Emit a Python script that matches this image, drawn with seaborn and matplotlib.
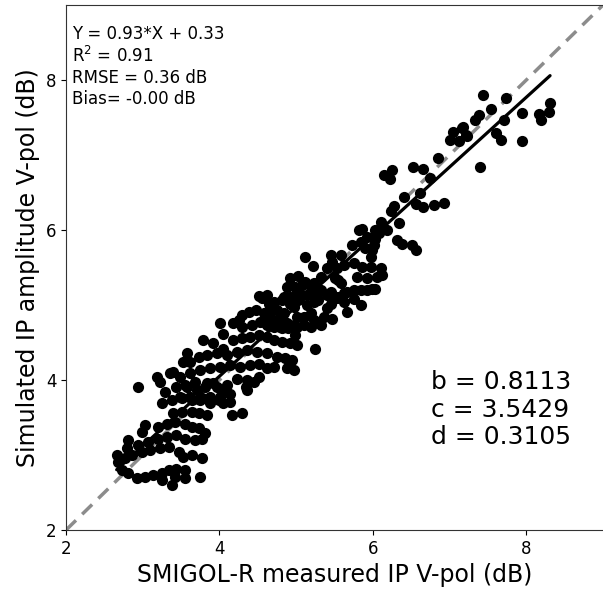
import numpy as np
import pandas as pd
import matplotlib
matplotlib.use("Agg")
import matplotlib.pyplot as plt
import seaborn as sns

# points, grouped by band of simulated value (dB)
# each entry is (measured, simulated)
band_top = [
    (7.43, 7.80), (7.73, 7.76), (7.54, 7.61), (7.38, 7.53), (7.33, 7.47),
    (7.17, 7.38), (7.04, 7.31), (7.21, 7.27), (7.12, 7.19), (7.00, 7.20),
    (7.23, 7.25), (7.71, 7.47), (7.95, 7.56), (8.31, 7.69), (8.17, 7.55),
    (8.29, 7.57), (8.19, 7.47), (7.60, 7.29), (7.67, 7.20), (7.94, 7.19),
    (7.40, 6.84), (6.85, 6.96), (6.52, 6.84), (6.66, 6.81), (6.75, 6.70),
    (6.25, 6.80), (6.14, 6.73), (6.22, 6.68), (7.16, 7.36),
]

band_upper = [
    (6.41, 6.44), (6.62, 6.49), (6.27, 6.32), (6.56, 6.35), (6.66, 6.31),
    (6.80, 6.34), (6.93, 6.36), (6.23, 6.25), (6.10, 6.11), (6.03, 6.00),
    (6.34, 6.09), (5.86, 6.01), (5.93, 5.91), (6.01, 5.80), (6.32, 5.87),
    (6.38, 5.82), (6.51, 5.80), (6.56, 5.74), (5.82, 6.00), (5.73, 5.80),
    (5.84, 5.84), (5.90, 5.76), (5.99, 5.73), (5.97, 5.64), (6.06, 5.98),
    (6.19, 6.00), (6.03, 5.88), (6.08, 5.96), (6.14, 6.02),
]

band_mid = [
    (5.12, 5.64), (5.22, 5.52), (5.45, 5.67), (5.58, 5.67), (5.47, 5.58),
    (5.40, 5.49), (5.53, 5.49), (5.62, 5.53), (5.75, 5.56), (5.86, 5.51),
    (5.97, 5.51), (6.10, 5.49), (6.12, 5.40), (5.79, 5.38), (5.93, 5.36),
    (6.06, 5.38), (4.92, 5.36), (5.03, 5.39), (5.32, 5.38), (5.51, 5.36),
    (5.58, 5.30), (4.88, 5.24), (4.99, 5.24), (5.08, 5.27), (5.19, 5.24),
    (5.27, 5.20), (5.45, 5.18), (5.66, 5.18), (5.84, 5.20), (5.99, 5.22),
    (5.55, 5.33), (5.45, 5.13), (5.55, 5.11), (5.75, 5.20), (5.93, 5.20),
    (6.03, 5.21), (5.62, 5.04), (5.75, 5.08), (5.84, 5.00), (5.66, 4.91),
    (4.62, 5.13), (4.55, 5.09), (4.64, 5.02), (4.71, 5.04), (4.84, 5.09),
    (5.01, 5.09), (5.08, 5.13), (4.97, 4.98), (5.14, 5.00), (5.23, 5.04),
    (5.29, 5.07), (5.40, 4.96), (5.36, 4.84), (5.19, 4.89), (5.10, 4.84),
    (5.01, 4.84), (4.66, 4.84), (4.75, 4.80), (4.84, 4.89), (4.88, 4.76),
    (4.79, 4.71), (4.62, 4.73), (4.58, 4.78), (5.23, 4.80), (5.47, 4.82),
    (4.97, 4.73), (5.10, 4.73), (5.19, 4.71), (5.32, 4.73), (4.51, 5.12),
    (4.82, 5.07), (4.92, 5.11), (5.01, 5.16), (5.14, 5.13), (5.19, 5.18),
    (5.27, 5.09), (4.92, 5.27), (5.12, 5.31), (5.23, 5.29), (5.32, 5.20),
    (5.40, 5.13), (4.84, 5.11), (4.92, 5.02), (5.03, 5.07), (5.45, 5.02),
    (5.53, 5.09), (5.62, 5.16),
]

band_lower = [
    (5.25, 4.42), (4.01, 4.76), (4.05, 4.62), (4.18, 4.76), (4.25, 4.80),
    (4.29, 4.87), (4.38, 4.91), (4.47, 4.93), (4.58, 4.89), (4.66, 4.91),
    (4.75, 4.93), (4.82, 4.84), (4.29, 4.71), (4.42, 4.73), (4.53, 4.78),
    (4.62, 4.76), (4.71, 4.71), (4.82, 4.69), (4.90, 4.69), (5.01, 4.71),
    (3.79, 4.53), (3.92, 4.49), (4.05, 4.42), (4.18, 4.53), (4.29, 4.56),
    (4.40, 4.58), (4.51, 4.60), (4.62, 4.58), (4.71, 4.53), (4.82, 4.51),
    (4.92, 4.49), (5.01, 4.47), (4.99, 4.60), (3.58, 4.36), (3.73, 4.31),
    (3.62, 4.24), (3.53, 4.24), (3.84, 4.33), (3.97, 4.36), (4.10, 4.33),
    (4.23, 4.38), (4.36, 4.40), (4.49, 4.38), (4.62, 4.36), (4.75, 4.31),
    (4.86, 4.29), (4.95, 4.27), (4.88, 4.16), (4.97, 4.13), (3.40, 4.11),
    (3.49, 4.04), (3.62, 4.09), (3.75, 4.13), (3.88, 4.16), (4.01, 4.18),
    (4.14, 4.20), (4.27, 4.18), (4.40, 4.20), (4.51, 4.22), (4.62, 4.16),
    (4.71, 4.18), (4.23, 4.02), (4.36, 4.00), (4.45, 3.98), (4.51, 4.04),
    (3.18, 4.04), (3.36, 4.09),
]

band_low = [
    (3.44, 3.91), (3.58, 3.91), (3.71, 3.87), (3.84, 3.96), (3.97, 3.91),
    (4.10, 3.93), (4.14, 3.82), (4.01, 3.78), (3.88, 3.78), (3.75, 3.73),
    (3.62, 3.78), (3.49, 3.78), (4.05, 3.69), (4.14, 3.71), (4.34, 3.91),
    (4.36, 3.87), (2.94, 3.91), (3.23, 3.98), (3.29, 3.84), (3.55, 3.93),
    (3.68, 3.98), (3.81, 3.91), (3.92, 3.96), (4.03, 3.87), (3.25, 3.69),
    (3.38, 3.73), (3.51, 3.76), (3.64, 3.73), (3.77, 3.76), (3.88, 3.69),
    (3.99, 3.73),
]

band_bottom = [
    (4.16, 3.53), (4.29, 3.56), (3.40, 3.56), (3.51, 3.58), (3.64, 3.58),
    (3.73, 3.56), (3.84, 3.53), (3.03, 3.40), (2.99, 3.31), (3.20, 3.38),
    (3.31, 3.42), (3.42, 3.44), (3.55, 3.42), (3.64, 3.38), (3.73, 3.36),
    (3.77, 3.22), (3.81, 3.29), (2.81, 3.20), (2.79, 3.09), (2.94, 3.13),
    (3.07, 3.18), (3.20, 3.22), (3.31, 3.24), (3.44, 3.27), (3.55, 3.22),
    (3.68, 3.20), (2.66, 3.00), (2.68, 2.91), (2.77, 2.96), (2.86, 3.00),
    (2.99, 3.04), (3.10, 3.07), (3.23, 3.09), (3.34, 3.11), (3.47, 3.04),
    (3.53, 2.98), (3.64, 3.00), (3.77, 2.96), (2.73, 2.80), (2.81, 2.76),
    (2.92, 2.69), (3.03, 2.71), (3.14, 2.73), (3.25, 2.76), (3.34, 2.80),
    (3.44, 2.82), (3.55, 2.80), (3.42, 2.71), (3.55, 2.69), (3.25, 2.67),
    (3.38, 2.60), (3.75, 2.71),
]

slope = 0.93
intercept = 0.33
stats_text = "Y = 0.93*X + 0.33\nR$^2$ = 0.91\nRMSE = 0.36 dB\nBias= -0.00 dB"
params_text = "b = 0.8113\nc = 3.5429\nd = 0.3105"
axis_min, axis_max = 2, 9
ticks = [2, 4, 6, 8]

points = band_top + band_upper + band_mid + band_lower + band_low + band_bottom
df = pd.DataFrame(points, columns=["measured", "simulated"])

sns.set_style("ticks")
plt.rcParams["font.family"] = ["DejaVu Sans"]
plt.rcParams["text.color"] = "black"
plt.rcParams["axes.labelcolor"] = "black"
plt.rcParams["xtick.color"] = "black"
plt.rcParams["ytick.color"] = "black"
plt.rcParams["axes.edgecolor"] = "#333333"

fig = plt.figure(figsize=(6.03, 5.97), dpi=100)
ax = fig.add_axes([0.1095, 0.1122, 0.8905, 0.8794])

ax.plot([axis_min, axis_max], [axis_min, axis_max], color="#8c8c8c",
        linestyle="--", linewidth=2.5, dashes=(4, 2.5), zorder=1)
sns.scatterplot(data=df, x="measured", y="simulated", color="black",
                s=65, linewidth=0, ax=ax, zorder=2)

xfit = np.array([df["measured"].min(), df["measured"].max()])
ax.plot(xfit, slope * xfit + intercept, color="black", linewidth=2.3, zorder=3)

ax.text(0.012, 0.962, stats_text, transform=ax.transAxes, va="top",
        ha="left", fontsize=12)
ax.text(0.68, 0.305, params_text, transform=ax.transAxes, va="top",
        ha="left", fontsize=18)

ax.set_xlim(axis_min, axis_max)
ax.set_ylim(axis_min, axis_max)
ax.set_xticks(ticks)
ax.set_yticks(ticks)
ax.spines["right"].set_visible(False)
ax.tick_params(labelsize=12)
ax.set_xlabel("SMIGOL-R measured IP V-pol (dB)", fontsize=17)
ax.set_ylabel("Simulated IP amplitude V-pol (dB)", fontsize=17)

fig.savefig("out.png", dpi=100)
